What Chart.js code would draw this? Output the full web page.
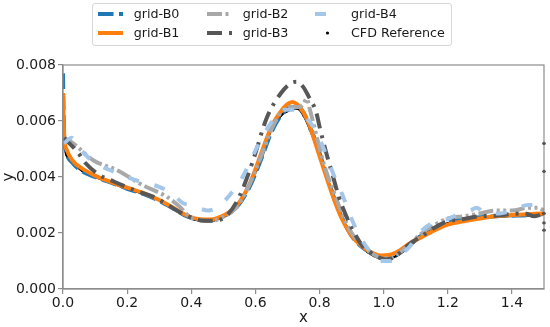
<!DOCTYPE html>
<html><head><meta charset="utf-8">
<script src="https://cdn.jsdelivr.net/npm/chart.js@4.4.1/dist/chart.umd.min.js"></script>
<style>
html,body{margin:0;padding:0;background:#fff;}
#wrap{position:relative;width:550px;height:327px;overflow:hidden;}
canvas{position:absolute;left:0;top:0;}
#legend{position:absolute;left:92px;top:3px;width:358px;height:41px;border:1px solid #d6d6d6;border-radius:3px;background:rgba(255,255,255,0.85);font-family:"DejaVu Sans",sans-serif;font-size:12.7px;color:#1a1a1a;}
.item{position:absolute;height:16px;line-height:16px;white-space:nowrap;}
.item svg{position:absolute;left:0;top:3px;}
.item span{position:absolute;left:36px;top:0;}
</style>
</head><body>
<div id="wrap">
<canvas id="c" width="550" height="327"></canvas>
<div id="legend"></div>
</div>
<script>
// ---- data ----
const cfdX = [0.002,0.01,0.02,0.04,0.06,0.09,0.12,0.16,0.2,0.24,0.28,0.32,0.35,0.38,0.41,0.44,0.47,0.5,0.53,0.56,0.59,0.62,0.65,0.68,0.71,0.73,0.75,0.77,0.79,0.81,0.83,0.85,0.87,0.89,0.91,0.93,0.95,0.97,0.99,1.01,1.04,1.07,1.1,1.13,1.16,1.2,1.25,1.3,1.35,1.4,1.45,1.5];
const cfdY = [0.0052,0.0048,0.0046,0.0044,0.00422,0.00405,0.00392,0.00375,0.00358,0.00344,0.00328,0.00305,0.00282,0.00262,0.00248,0.00243,0.00245,0.0026,0.00285,0.00328,0.0039,0.0047,0.0057,0.0062,0.0064,0.00645,0.0062,0.0057,0.0051,0.0044,0.00375,0.0031,0.00255,0.00212,0.0018,0.00152,0.00132,0.00118,0.0011,0.00108,0.00118,0.00142,0.00172,0.002,0.0022,0.00235,0.00245,0.00252,0.00258,0.00261,0.00263,0.00265];
const cfdEdgeX = [1.5,1.5,1.5,1.5,1.5];
const cfdEdgeY = [0.0052,0.0042,0.0027,0.00236,0.0021];

const b0X = [0.0,0.002,0.005,0.01,0.03,0.06,0.1,0.15,0.2,0.25,0.3,0.34,0.38,0.42,0.46,0.5,0.54,0.58,0.62,0.65,0.68,0.71,0.73,0.75,0.77,0.79,0.81,0.83,0.85,0.87,0.9,0.93,0.96,0.99,1.02,1.05,1.08,1.11,1.15,1.2,1.25,1.3,1.35,1.4,1.45,1.5];
const b0Y = [0.0077,0.0062,0.0053,0.0049,0.0045,0.0042,0.004,0.0038,0.00358,0.0034,0.00315,0.0029,0.00263,0.00248,0.00245,0.0026,0.0029,0.0036,0.0047,0.0056,0.0062,0.0065,0.0065,0.0063,0.0058,0.0052,0.0045,0.0038,0.0031,0.00255,0.0019,0.00152,0.0013,0.00115,0.00115,0.0013,0.00155,0.00185,0.0021,0.00238,0.0025,0.00256,0.0026,0.00262,0.00264,0.00268];

const b1X = [0.0,0.002,0.005,0.012,0.03,0.06,0.1,0.15,0.2,0.25,0.3,0.34,0.38,0.42,0.46,0.5,0.54,0.58,0.62,0.65,0.68,0.7,0.715,0.73,0.75,0.77,0.79,0.81,0.83,0.85,0.87,0.9,0.93,0.96,0.99,1.02,1.05,1.08,1.11,1.15,1.2,1.25,1.3,1.35,1.4,1.45,1.5];
const b1Y = [0.007,0.006,0.0053,0.00496,0.00458,0.0043,0.00405,0.00382,0.00362,0.00343,0.00318,0.00293,0.00266,0.0025,0.00248,0.00262,0.00295,0.0037,0.0049,0.0058,0.00635,0.0066,0.00668,0.0066,0.0063,0.0058,0.0051,0.0044,0.0037,0.00305,0.0025,0.0019,0.00155,0.00132,0.0012,0.00122,0.00138,0.00162,0.0018,0.00205,0.0023,0.00242,0.00252,0.0026,0.00264,0.00267,0.0027];

const b2X = [0.003,0.02,0.043,0.094,0.167,0.25,0.323,0.364,0.395,0.43,0.46,0.5,0.54,0.58,0.62,0.65,0.68,0.71,0.735,0.75,0.76,0.77,0.79,0.81,0.83,0.85,0.87,0.9,0.93,0.96,0.99,1.02,1.05,1.08,1.12,1.16,1.2,1.25,1.3,1.35,1.4,1.45,1.48,1.5];
const b2Y = [0.0054,0.0053,0.0051,0.0046,0.00425,0.0037,0.0033,0.00294,0.00258,0.00245,0.00243,0.00258,0.0029,0.0037,0.0048,0.0057,0.0063,0.0065,0.0065,0.0066,0.0068,0.0064,0.0055,0.0046,0.0039,0.0033,0.0027,0.002,0.0016,0.0013,0.00112,0.0011,0.0013,0.0016,0.002,0.0023,0.00252,0.0026,0.0027,0.0028,0.0028,0.0029,0.0029,0.0028];

const b3X = [0.003,0.02,0.045,0.07,0.11,0.16,0.23,0.28,0.32,0.355,0.39,0.43,0.47,0.51,0.55,0.593,0.635,0.68,0.71,0.73,0.75,0.765,0.79,0.8,0.82,0.84,0.86,0.88,0.9,0.93,0.96,0.99,1.01,1.04,1.08,1.12,1.16,1.2,1.25,1.3,1.35,1.4,1.44,1.47,1.5];
const b3Y = [0.0054,0.0052,0.0049,0.0045,0.0041,0.00383,0.0035,0.0033,0.00306,0.0028,0.0026,0.00245,0.00244,0.00262,0.0033,0.0046,0.0061,0.007,0.00735,0.0074,0.0072,0.0069,0.0063,0.0058,0.0049,0.0041,0.0033,0.0027,0.0022,0.0016,0.0013,0.0011,0.00105,0.0012,0.0016,0.0019,0.0022,0.00242,0.0025,0.0026,0.00262,0.00268,0.0027,0.0026,0.0027];

const b4X = [0.003,0.027,0.053,0.1,0.146,0.2,0.25,0.3,0.34,0.375,0.395,0.42,0.453,0.49,0.52,0.56,0.598,0.63,0.66,0.69,0.72,0.75,0.78,0.81,0.84,0.87,0.9,0.93,0.96,0.99,1.02,1.05,1.08,1.12,1.16,1.2,1.24,1.27,1.29,1.32,1.36,1.4,1.45,1.48,1.5];
const b4Y = [0.0052,0.0054,0.005,0.0045,0.00425,0.004,0.0038,0.00365,0.0034,0.00306,0.003,0.0029,0.0028,0.003,0.00336,0.004,0.0049,0.0056,0.0061,0.0064,0.0064,0.0062,0.0058,0.0051,0.0042,0.0034,0.0025,0.0018,0.0013,0.001,0.001,0.0012,0.0015,0.0021,0.0024,0.0025,0.0027,0.0028,0.0029,0.0027,0.0027,0.0028,0.003,0.003,0.0027];

const xTickValues = [0,0.2,0.4,0.6,0.8,1.0,1.2,1.4];
const yTickValues = [0,0.002,0.004,0.006,0.008];
const seriesNames = ["grid-B0","grid-B1","grid-B2","grid-B3","grid-B4","CFD Reference"];

// ---- styles ----
const colors = ["#1f77b4","#ff7f0e","#a8a8a8","#575757","#a3c6e9","#000000"];
const dashes = [[15.5,5.5],[],[15,3.5,3,3.5,3,3.5],[15,7,3,7],[11,16],[]];

function pts(xs, ys){ return xs.map((x,i)=>({x:x,y:ys[i]})); }

const seriesData = [pts(b0X,b0Y),pts(b1X,b1Y),pts(b2X,b2Y),pts(b3X,b3Y),pts(b4X,b4Y)];
const lineOrder = [5,4,3,2,1];

const datasets = seriesData.map((d,i)=>({
  label: seriesNames[i], data: d, showLine: true,
  borderColor: colors[i], backgroundColor: colors[i],
  borderWidth: 4, borderDash: dashes[i], pointRadius: 0,
  borderCapStyle: 'butt', borderJoinStyle: 'round',
  cubicInterpolationMode: 'monotone', order: lineOrder[i]
}));
datasets.push({
  label: seriesNames[5], data: pts(cfdX,cfdY), showLine: true,
  borderColor: '#000', backgroundColor: '#000', borderWidth: 2.2,
  pointRadius: 1.3, pointBorderWidth: 0, cubicInterpolationMode: 'monotone', order: 6
});
datasets.push({
  label: seriesNames[5] + ' ', data: pts(cfdEdgeX,cfdEdgeY), showLine: false,
  backgroundColor: '#000', borderColor: '#000', pointRadius: 1.6, pointBorderWidth: 0, order: 0, clip: 4
});

const frameColor = '#8c8c8c';
const framePlugin = {
  id: 'frame',
  afterDraw(chart){
    const a = chart.chartArea, ctx = chart.ctx;
    ctx.save(); ctx.strokeStyle = frameColor; ctx.lineWidth = 1.2;
    ctx.strokeRect(a.left, a.top, a.right - a.left, a.bottom - a.top);
    ctx.restore();
  }
};

const tickFont = {family: "'DejaVu Sans', sans-serif", size: 14};
const titleFont = {family: "'DejaVu Sans', sans-serif", size: 15};

new Chart(document.getElementById('c'), {
  type: 'scatter',
  data: { datasets: datasets },
  options: {
    responsive: false, animation: false, events: [],
    layout: { padding: { left: 0, right: 6, top: 65, bottom: 0 } },
    plugins: { legend: { display: false }, tooltip: { enabled: false } },
    scales: {
      x: {
        type: 'linear', min: 0, max: 1.5,
        afterFit(s){ s.height = 38; },
        afterBuildTicks(s){ s.ticks = xTickValues.map(v=>({value:v})); },
        ticks: { font: tickFont, color: '#1a1a1a', padding: 1, maxRotation: 0,
          callback: v => Number(v).toFixed(1) },
        grid: { drawOnChartArea: false, drawTicks: true, tickLength: 5, color: frameColor, lineWidth: 1.2 },
        border: { display: true, color: frameColor, width: 1.2 },
        title: { display: true, text: 'x', font: titleFont, color: '#1a1a1a', padding: {top: 0, bottom: 0} }
      },
      y: {
        type: 'linear', min: 0, max: 0.008,
        afterFit(s){ s.width = 63; },
        afterBuildTicks(s){ s.ticks = yTickValues.map(v=>({value:v})); },
        ticks: { font: tickFont, color: '#1a1a1a', padding: 2,
          callback: v => Number(v).toFixed(3) },
        grid: { drawOnChartArea: false, drawTicks: true, tickLength: 5, color: frameColor, lineWidth: 1.2 },
        border: { display: true, color: frameColor, width: 1.2 },
        title: { display: true, text: 'y', font: titleFont, color: '#1a1a1a', padding: {top: 0, bottom: 0} }
      }
    }
  },
  plugins: [framePlugin]
});

// ---- legend (HTML) ----
const legendCols = [4.7, 113.7, 222];
const legendRows = [2, 21.3];
const legendPos = [[0,0],[0,1],[1,0],[1,1],[2,0],[2,1]];
const legend = document.getElementById('legend');
seriesNames.forEach((name,i)=>{
  const it = document.createElement('div');
  it.className = 'item';
  it.style.left = legendCols[legendPos[i][0]] + 'px';
  it.style.top = legendRows[legendPos[i][1]] + 'px';
  let svg;
  if (i === 5) {
    svg = '<svg width="26" height="10"><circle cx="12.5" cy="5" r="1.6" fill="#000"/></svg>';
  } else {
    svg = '<svg width="26" height="10"><line x1="0" y1="5" x2="25" y2="5" stroke="' + colors[i] +
      '" stroke-width="4" stroke-dasharray="' + (dashes[i].length ? dashes[i].join(' ') : 'none') + '"/></svg>';
  }
  it.innerHTML = svg + '<span>' + name + '</span>';
  legend.appendChild(it);
});
</script>
</body></html>
